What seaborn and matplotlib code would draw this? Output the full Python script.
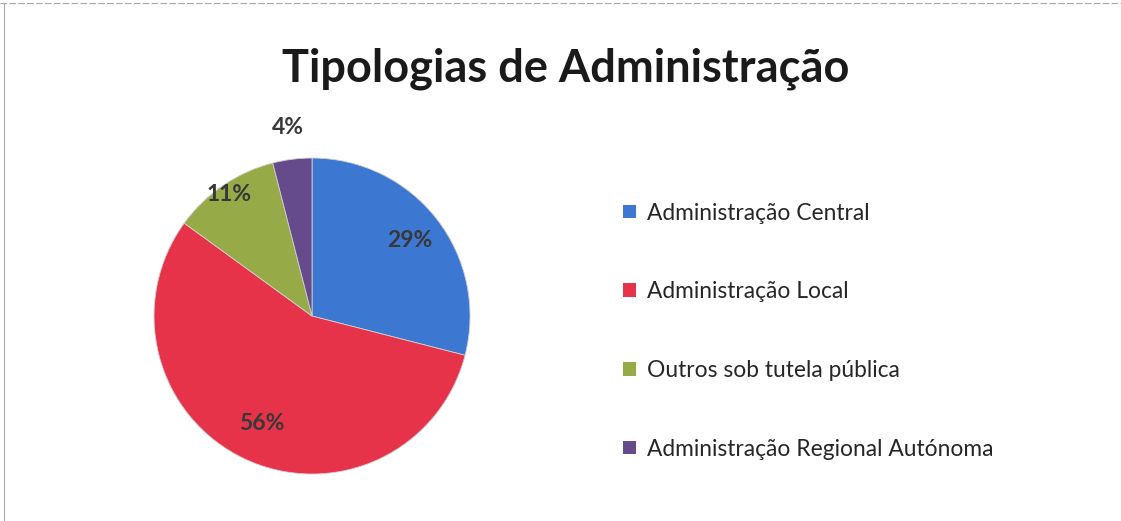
import matplotlib
matplotlib.use("Agg")
import matplotlib.pyplot as plt
import matplotlib.patches as mpatches
import numpy as np
import seaborn as sns

# dados
categorias = ['Administração Central', 'Administração Local',
              'Outros sob tutela pública', 'Administração Regional Autónoma']
valores = [29, 56, 11, 4]
rotulos = ['29%', '56%', '11%', '4%']
cores = ['#3C78D2', '#E6334A', '#97AA48', '#654B8C']

sns.set_theme(style="white")
plt.rcParams['font.family'] = ['Lato', 'DejaVu Sans']

fig = plt.figure(figsize=(11.21, 5.21), dpi=100)
fig.patch.set_facecolor('white')

ax = fig.add_axes([0.1374, 0.0902, 0.2819, 0.6065])
wedges, _ = ax.pie(valores, colors=cores, startangle=90, counterclock=False,
                   wedgeprops=dict(linewidth=0.6, edgecolor='#d0d0d0'))
ax.set_xlim(-1, 1)
ax.set_ylim(-1, 1)
ax.set_aspect('equal')
ax.axis('off')

# rótulos de percentagem
dist = [0.78, 0.75, 0.93, 1.2]
for w, lab, d in zip(wedges, rotulos, dist):
    ang = np.deg2rad((w.theta1 + w.theta2) / 2)
    ax.text(d * np.cos(ang), d * np.sin(ang), lab, ha='center', va='center',
            fontsize=16.5, fontweight='bold', color='#383838')

fig.text(0.505, 0.869, 'Tipologias de Administração', ha='center', va='center',
         fontsize=32.5, fontweight='bold', color='#1a1a1a')

handles = [mpatches.Patch(facecolor=c, edgecolor='none') for c in cores]
fig.legend(handles, categorias, loc='upper left', bbox_to_anchor=(0.556, 0.611),
           frameon=False, fontsize=16.4, labelspacing=2.53, handlelength=0.55,
           handleheight=0.55, handletextpad=0.5, borderpad=0, borderaxespad=0)

# moldura (topo e esquerda, como no original digitalizado)
fig.add_artist(plt.Line2D([0, 1], [0.994, 0.994], transform=fig.transFigure,
                          color='#aaaaaa', linewidth=0.8, linestyle=(0, (6, 2))))
fig.add_artist(plt.Line2D([0.004, 0.004], [0, 0.994], transform=fig.transFigure,
                          color='#aaaaaa', linewidth=0.8))

fig.savefig('out.png', dpi=100, facecolor='white')
